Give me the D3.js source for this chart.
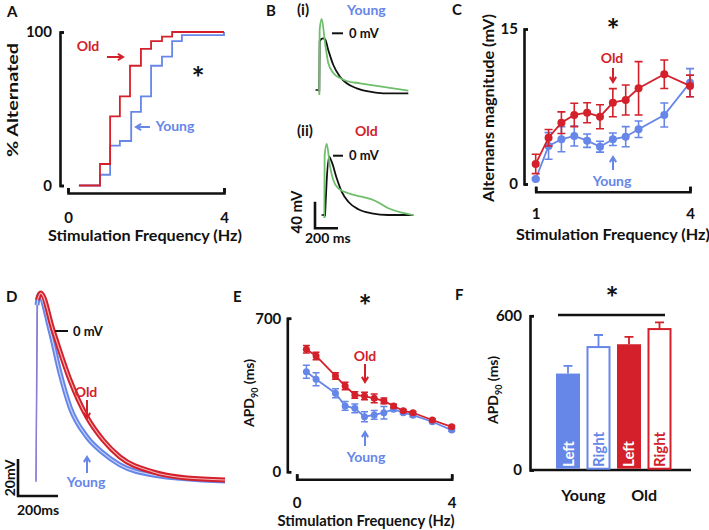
<!DOCTYPE html>
<html><head><meta charset="utf-8">
<script src="https://cdn.jsdelivr.net/npm/d3@7"></script>
<style>
body{margin:0;background:#fff}
svg text{font-family:Lato,"Open Sans",sans-serif;font-weight:700}
</style>
</head><body>
<svg id="c" width="709" height="530"></svg>
<script>
// ---------- DATA ----------
// Panel A: cumulative % alternated vs stimulation frequency (step curves)
const aOldHz   = [0.28,0.82,1.08,1.33,1.59,1.87,2.13,2.41,2.67,4];
const aOldPct  = [0,14,45,58,78,89,94,97,100,100];
const aYoungHz = [0.28,0.82,1.08,1.33,1.62,1.87,2.13,2.41,2.67,2.92,4];
const aYoungPct= [0,7,26,29,48,58,78,84,94,98,100];
const aTicksX = [0,4], aTicksY = [0,100];

// Panel B: example action potentials (ms, mV)
const b1GreenT=[0,3,21,50,78,122,180,238,354,499,643,774];
const b1GreenV=[-92.8,5,21.5,-14.6,-44.7,-59.7,-67.2,-71.7,-75.2,-79.2,-82.7,-86.3];
const b1BlackT=[0,3,30,50,78,122,180,238,325,441,557,774];
const b1BlackV=[-87.8,-12,-7.5,-9,-25.1,-47.7,-65.3,-75.2,-82.7,-87.8,-90.2,-90.2];
const b2GreenT=[0,3,21,50,78,122,209,325,441,557,673,774];
const b2GreenV=[-93.7,0,17.6,-16.5,-36.5,-49,-56.5,-61.7,-67.7,-79.1,-85.7,-89.2];
const b2BlackT=[6,20,41,64,108,151,209,296,412,557,774];
const b2BlackV=[-91.2,-40,-1.5,-9,-34,-54.1,-69.2,-80.6,-86.6,-89.2,-89.2];

// Panel C: alternans magnitude (mV)
const cHz=[1,1.25,1.5,1.75,2,2.25,2.5,2.75,3,3.5,4];
const cOld=[1.94,4.48,5.93,6.68,6.9,6.51,7.87,8.13,9.26,10.62,9.49];
const cOldErr=[0.94,0.8,1.05,1.13,0.97,1.16,1.36,1.45,2.58,1.38,1.05];
const cYoung=[0.48,3.68,4.33,4.65,4.19,3.61,4.33,4.58,5.3,6.68,9.81];
const cYoungErr=[0.1,1.29,1.21,0.97,0.65,0.53,0.61,0.97,0.8,1.16,1.36];
const cTicksX=[1,4], cTicksY=[0,15];

// Panel D: averaged action potentials (ms, mV)
const dOldT=[0,7.5,23.5,85,170,255,335,420,585,755,945];
const dOldV=[-81,16.8,20.5,0.5,-26.5,-46.5,-58.9,-68.1,-76.2,-79.5,-80.5];
const dYoungT=[0,5,15,70,120,170,255,335,420,585,945];
const dYoungV=[-81.6,14,19.5,0.5,-22.7,-41.1,-57.3,-65.9,-72.4,-77.8,-81.1];

// Panel E: APD90 (ms) vs frequency
const eHz=[0.25,0.5,1,1.25,1.5,1.75,2,2.25,2.5,2.75,3,3.5,4];
const eOld=[559,528,437,391,350,345,335,323,300,278,269,236,205];
const eOldErr=[17,17,15,17,15,17,20,13,8,6,6,6,6];
const eYoung=[456,422,358,300,289,251,259,269,285,269,258,228,190];
const eYoungErr=[30,30,20,20,20,23,20,28,8,6,6,5,5];
const eTicksX=[0,4], eTicksY=[0,700];

// Panel F: APD90 bars
const fGroup=['Young','Young','Old','Old'];
const fSide=['Left','Right','Left','Right'];
const fMean=[375,478,489,548];
const fErr=[30,47,29,26];
const fTicksY=[0,600];

// ---------- DRAWING ----------
const RED='#d3202a', BLUE='#6686e8', GREEN='#6dbf6b', BLACK='#111';
const svg=d3.select('#c');

function txt(x,y,s,o={}){
  const t=svg.append('text').attr('x',x).attr('y',y).text(s)
    .attr('font-size',o.size||14).attr('fill',o.fill||BLACK)
    .attr('text-anchor',o.anchor||'start');
  if(o.rot) t.attr('transform',`rotate(-90,${x},${y})`);
  if(o.len) t.attr('textLength',o.len).attr('lengthAdjust','spacingAndGlyphs');
  return t;
}
function arrow(x1,y1,x2,y2,c){
  const a=Math.atan2(y2-y1,x2-x1),h=6,s=0.55;
  svg.append('path')
    .attr('d',`M${x1},${y1}L${x2},${y2}M${x2-h*Math.cos(a-s)},${y2-h*Math.sin(a-s)}L${x2},${y2}L${x2-h*Math.cos(a+s)},${y2-h*Math.sin(a+s)}`)
    .attr('stroke',c).attr('stroke-width',2).attr('fill','none');
}
function styleAxis(g){
  g.attr('font-size',15).attr('font-family',null);
  g.select('.domain').attr('stroke',BLACK).attr('stroke-width',2.6);
  g.selectAll('.tick line').attr('stroke',BLACK).attr('stroke-width',2.6);
  g.selectAll('.tick text').attr('fill',BLACK);
}
function yAxis(scale,x,vals,pad){
  const g=svg.append('g').attr('transform',`translate(${x},0)`)
    .call(d3.axisLeft(scale).tickValues(vals).tickSizeInner(-4).tickSizeOuter(-4).tickPadding(pad).tickFormat(d3.format('d')));
  styleAxis(g);
  return g;
}
function xAxis(scale,y,vals,pad){
  const g=svg.append('g').attr('transform',`translate(0,${y})`)
    .call(d3.axisBottom(scale).tickValues(vals).tickSizeInner(-5).tickSizeOuter(-5).tickPadding(pad).tickFormat(d3.format('d')));
  styleAxis(g);
  return g;
}
function star(x,y){ txt(x,y+17,'*',{size:31,anchor:'middle'}); }

// ===== Panel A =====
{
  const x=d3.scaleLinear().domain([0,4]).range([68,224]);
  const y=d3.scaleLinear().domain([0,100]).range([185.5,32]);
  yAxis(y,60,aTicksY,8);
  xAxis(x,193,aTicksX,19);
  const line=d3.line().curve(d3.curveStepAfter).x(d=>x(d[0])).y(d=>y(d[1]));
  svg.append('path').datum(d3.zip(aYoungHz,aYoungPct)).attr('d',line)
    .attr('fill','none').attr('stroke',BLUE).attr('stroke-width',1.8);
  svg.append('path').datum(d3.zip(aOldHz,aOldPct)).attr('d',line)
    .attr('fill','none').attr('stroke',RED).attr('stroke-width',1.8);
  txt(7,17,'A',{size:15});
  txt(18,100,'% Alternated',{size:16,anchor:'middle',rot:true,len:114});
  txt(145,241,'Stimulation Frequency (Hz)',{size:16,anchor:'middle',len:194});
  txt(88,51,'Old',{size:14,anchor:'middle',fill:RED});
  arrow(107,57,123,57,RED);
  txt(175,131,'Young',{size:14,anchor:'middle',fill:BLUE});
  arrow(150,127,136,127,BLUE);
  star(198,72);
}

// ===== Panel B =====
{
  const x1=d3.scaleLinear().domain([0,200]).range([319.3,342.3]);
  const x2=d3.scaleLinear().domain([0,200]).range([324.3,347.3]);
  const y1=d3.scaleLinear().domain([0,-40]).range([33.3,59.9]);
  const y2=d3.scaleLinear().domain([0,-40]).range([155.7,182.3]);
  const draw=(T,V,xs,ys,c,w)=>svg.append('path').datum(d3.zip(T,V))
    .attr('d',d3.line().curve(d3.curveMonotoneX).x(d=>xs(d[0])).y(d=>ys(d[1])))
    .attr('fill','none').attr('stroke',c).attr('stroke-width',w);
  draw(b1BlackT,b1BlackV,x1,y1,BLACK,1.8);
  draw(b1GreenT,b1GreenV,x1,y1,GREEN,1.8);
  draw(b2BlackT,b2BlackV,x2,y2,BLACK,1.8);
  draw(b2GreenT,b2GreenV,x2,y2,GREEN,1.8);
  svg.append('line').attr('x1',315.5).attr('x2',318).attr('y1',90).attr('y2',90).attr('stroke',BLACK).attr('stroke-width',1.5);
  svg.append('line').attr('x1',321.5).attr('x2',324).attr('y1',215).attr('y2',215).attr('stroke',BLACK).attr('stroke-width',1.5);
  svg.append('line').attr('x1',332).attr('x2',343).attr('y1',y1(0)).attr('y2',y1(0)).attr('stroke',BLACK).attr('stroke-width',2);
  txt(349,y1(0)+4.5,'0 mV',{size:13});
  svg.append('line').attr('x1',333).attr('x2',343).attr('y1',y2(0)).attr('y2',y2(0)).attr('stroke',BLACK).attr('stroke-width',2);
  txt(349,y2(0)+4.5,'0 mV',{size:13});
  const sb=d3.scaleLinear().domain([0,200]).range([315,338]);
  const sv=d3.scaleLinear().domain([0,40]).range([228.3,201.7]);
  svg.append('path').attr('d',`M${sb(0)},${sv(40)}V${sv(0)}H${sb(200)}`)
    .attr('fill','none').attr('stroke',BLACK).attr('stroke-width',2.6);
  txt(302,212,'40 mV',{size:15,anchor:'middle',rot:true});
  txt(305,243,'200 ms',{size:14});
  txt(266,16,'B',{size:15});
  txt(297,15,'(i)',{size:15});
  txt(347,15,'Young',{size:14,fill:BLUE});
  txt(297,136,'(ii)',{size:15});
  txt(355,136,'Old',{size:14,fill:RED});
}

// ===== Panel C =====
{
  const x=d3.scaleLinear().domain([1,4]).range([535.7,690]);
  const y=d3.scaleLinear().domain([0,15]).range([184,29]);
  yAxis(y,524,cTicksY,6);
  xAxis(x,191.7,cTicksX,17);
  const series=(V,E,c)=>{
    const pts=d3.zip(cHz,V,E);
    const g=svg.append('g');
    g.selectAll('path.eb').data(pts).join('path')
      .attr('d',d=>`M${x(d[0])-4},${y(d[1]+d[2])}H${x(d[0])+4}M${x(d[0])},${y(d[1]+d[2])}V${y(d[1]-d[2])}M${x(d[0])-4},${y(d[1]-d[2])}H${x(d[0])+4}`)
      .attr('stroke',c).attr('stroke-width',1.6).attr('fill','none');
    g.append('path').datum(pts).attr('d',d3.line().x(d=>x(d[0])).y(d=>y(d[1])))
      .attr('stroke',c).attr('stroke-width',1.8).attr('fill','none');
    g.selectAll('circle').data(pts).join('circle')
      .attr('cx',d=>x(d[0])).attr('cy',d=>y(d[1])).attr('r',4).attr('fill',c);
  };
  series(cYoung,cYoungErr,BLUE);
  series(cOld,cOldErr,RED);
  txt(452,15,'C',{size:15});
  txt(494,108,'Alternans magnitude (mV)',{size:16,anchor:'middle',rot:true,len:188});
  txt(613,240,'Stimulation Frequency (Hz)',{size:16,anchor:'middle',len:194});
  star(613,24);
  txt(612,63,'Old',{size:14,anchor:'middle',fill:RED});
  arrow(613,68,613,82,RED);
  txt(612,186,'Young',{size:14,anchor:'middle',fill:BLUE});
  arrow(613,170,613,157,BLUE);
}

// ===== Panel D =====
{
  const x=d3.scaleLinear().domain([0,200]).range([36,76]);
  const y=d3.scaleLinear().domain([0,-20]).range([331,368]);
  const line=d3.line().curve(d3.curveMonotoneX).x(d=>x(d[0])).y(d=>y(d[1]));
  const oldPts=d3.zip(dOldT,dOldV), youngPts=d3.zip(dYoungT,dYoungV);
  svg.append('path').datum(oldPts).attr('d',line).attr('fill','none').attr('stroke','#9a6ec4').attr('stroke-width',1.3);
  svg.append('path').datum(youngPts).attr('d',line).attr('fill','none').attr('stroke','#8a7fd6').attr('stroke-width',1.3);
  const band=(pts,c,light)=>{
    svg.append('path').datum(pts.slice(1)).attr('d',line).attr('fill','none').attr('stroke',c).attr('stroke-width',5);
    svg.append('path').datum(pts.slice(1)).attr('d',line).attr('fill','none').attr('stroke',light).attr('stroke-width',1.1);
  };
  band(youngPts,BLUE,'#c9d4fa');
  band(oldPts,RED,'#f3b5b5');
  svg.append('line').attr('x1',55).attr('x2',68).attr('y1',y(0)).attr('y2',y(0)).attr('stroke',BLACK).attr('stroke-width',2);
  txt(73,y(0)+5,'0 mV',{size:13});
  const sb=d3.scaleLinear().domain([0,200]).range([18,58]);
  svg.append('path').attr('d',`M${sb(0)},${y(0)+128}V${y(0)+165}H${sb(200)}`)
    .attr('fill','none').attr('stroke',BLACK).attr('stroke-width',2.6);
  txt(15,478,'20mV',{size:14,anchor:'middle',rot:true});
  txt(17,515,'200ms',{size:14});
  txt(6,302,'D',{size:15});
  txt(86,397,'Old',{size:14,anchor:'middle',fill:RED});
  arrow(87,400,87,418,RED);
  txt(86,487,'Young',{size:14,anchor:'middle',fill:BLUE});
  arrow(87,473,87,457,BLUE);
}

// ===== Panel E =====
{
  const x=d3.scaleLinear().domain([0,4]).range([296.7,451.7]);
  const y=d3.scaleLinear().domain([0,700]).range([471.7,318.3]);
  yAxis(y,287.3,eTicksY,6);
  xAxis(x,479.3,eTicksX,18);
  const series=(V,E,c)=>{
    const pts=d3.zip(eHz,V,E);
    const g=svg.append('g');
    g.selectAll('path.eb').data(pts).join('path')
      .attr('d',d=>`M${x(d[0])-3.5},${y(d[1]+d[2])}H${x(d[0])+3.5}M${x(d[0])},${y(d[1]+d[2])}V${y(d[1]-d[2])}M${x(d[0])-3.5},${y(d[1]-d[2])}H${x(d[0])+3.5}`)
      .attr('stroke',c).attr('stroke-width',1.5).attr('fill','none');
    g.append('path').datum(pts).attr('d',d3.line().x(d=>x(d[0])).y(d=>y(d[1])))
      .attr('stroke',c).attr('stroke-width',1.8).attr('fill','none');
    g.selectAll('circle').data(pts).join('circle')
      .attr('cx',d=>x(d[0])).attr('cy',d=>y(d[1])).attr('r',3.5).attr('fill',c);
  };
  series(eYoung,eYoungErr,BLUE);
  series(eOld,eOldErr,RED);
  txt(233,302,'E',{size:15});
  const t=svg.append('text').attr('transform','translate(254,393) rotate(-90)')
    .attr('text-anchor','middle').attr('font-size',14).attr('fill',BLACK);
  t.append('tspan').text('APD');
  t.append('tspan').text('90').attr('font-size',9).attr('dy',4);
  t.append('tspan').text(' (ms)').attr('dy',-4);
  txt(366,526,'Stimulation Frequency (Hz)',{size:15,anchor:'middle',len:177});
  star(365,300);
  txt(365,361,'Old',{size:14,anchor:'middle',fill:RED});
  arrow(365,364,365,382,RED);
  txt(366,462,'Young',{size:14,anchor:'middle',fill:BLUE});
  arrow(365,446,365,432,BLUE);
}

// ===== Panel F =====
{
  const y=d3.scaleLinear().domain([0,600]).range([470,315.7]);
  const x=d3.scaleBand().domain(d3.range(fMean.length)).range([556,671.5]).paddingInner(0.213).paddingOuter(0);
  yAxis(y,530,fTicksY,8);
  svg.append('line').attr('x1',530).attr('x2',691).attr('y1',y(0)).attr('y2',y(0))
    .attr('stroke',BLACK).attr('stroke-width',2.6);
  const col=i=>fGroup[i]==='Young'?BLUE:RED;
  const filled=i=>fSide[i]==='Left';
  const idx=d3.range(fMean.length);
  svg.selectAll('path.feb').data(idx).join('path')
    .attr('d',i=>{const cx=x(i)+x.bandwidth()/2;return `M${cx},${y(fMean[i])}V${y(fMean[i]+fErr[i])}M${cx-4.5},${y(fMean[i]+fErr[i])}H${cx+4.5}`;})
    .attr('stroke',col).attr('stroke-width',1.8).attr('fill','none');
  svg.selectAll('rect.fb').data(idx).join('rect')
    .attr('x',i=>x(i)+(filled(i)?0:1)).attr('width',i=>x.bandwidth()-(filled(i)?0:2))
    .attr('y',i=>y(fMean[i])).attr('height',i=>y(0)-y(fMean[i])-1.3)
    .attr('fill',i=>filled(i)?col(i):'#fff')
    .attr('stroke',i=>filled(i)?'none':col(i)).attr('stroke-width',2);
  svg.selectAll('text.fl').data(idx).join('text')
    .attr('transform',i=>`translate(${x(i)+x.bandwidth()/2+5.5},${y(0)-3}) rotate(-90)`)
    .attr('font-size',15).attr('fill',i=>filled(i)?'#fff':col(i)).text(i=>fSide[i]);
  const groups=[...new Set(fGroup)];
  groups.forEach(gname=>{
    const ii=idx.filter(i=>fGroup[i]===gname);
    const cx=d3.mean(ii,i=>x(i)+x.bandwidth()/2);
    txt(cx,501,gname,{size:16,anchor:'middle'});
  });
  svg.append('line').attr('x1',558).attr('x2',665).attr('y1',315).attr('y2',315)
    .attr('stroke',BLACK).attr('stroke-width',2.6);
  star(612,292);
  txt(455,300,'F',{size:15});
  const t=svg.append('text').attr('transform','translate(498,390) rotate(-90)')
    .attr('text-anchor','middle').attr('font-size',14).attr('fill',BLACK);
  t.append('tspan').text('APD');
  t.append('tspan').text('90').attr('font-size',9).attr('dy',4);
  t.append('tspan').text(' (ms)').attr('dy',-4);
}
</script>
</body></html>
